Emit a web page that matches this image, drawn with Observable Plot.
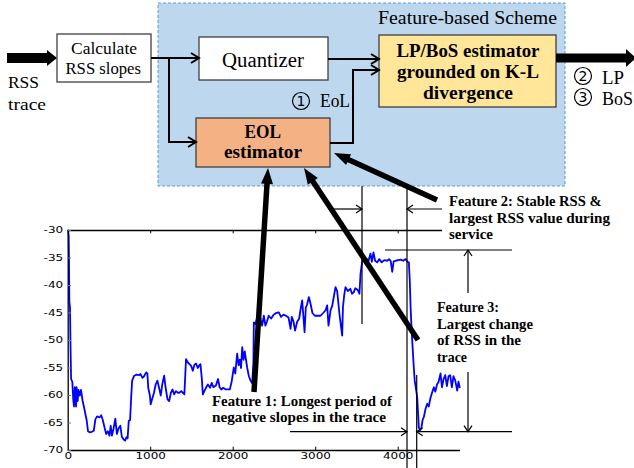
<!DOCTYPE html>
<html><head><meta charset="utf-8">
<script src="https://cdn.jsdelivr.net/npm/d3@7"></script>
<script src="https://cdn.jsdelivr.net/npm/@observablehq/plot@0.6"></script>
<style>html,body{margin:0;padding:0;background:#fff}</style>
</head><body>
<div id="chart"></div>
<script>
// RSS trace (sample index, dBm)
const sampleX = [0,6,10,14,22,28,35,50,61,70,80,95,102,115,125,140,155,175,190,210,224,240,260,286,310,330,350,380,400,420,440,460,480,500,515,530,550,571,590,610,632,650,673,690,706,720,734,750,763,775,800,830,860,877,900,920,945,960,970,990,1000,1020,1040,1060,1081,1100,1122,1140,1163,1180,1204,1224,1245,1265,1285,1305,1330,1346,1370,1390,1408,1420,1428,1450,1470,1490,1510,1530,1550,1570,1590,1603,1620,1632,1650,1670,1693,1720,1740,1760,1790,1816,1835,1856,1880,1910,1940,1958,1980,2007,2025,2048,2065,2080,2095,2109,2125,2140,2155,2170,2190,2210,2230,2245,2250,2270,2290,2310,2330,2350,2371,2390,2410,2430,2460,2490,2520,2553,2580,2610,2640,2670,2695,2710,2730,2750,2775,2800,2820,2836,2850,2865,2880,2895,2917,2940,2960,2990,3020,3058,3090,3120,3139,3155,3180,3200,3220,3240,3260,3290,3321,3330,3345,3361,3390,3420,3440,3462,3480,3510,3530,3543,3564,3580,3600,3620,3640,3664,3680,3700,3720,3745,3770,3800,3830,3867,3890,3910,3927,3945,3970,4000,4030,4060,4089,4110,4129,4140,4150,4165,4189,4200,4230,4250,4265,4280,4295,4311,4330,4351,4370,4390,4410,4432,4450,4470,4490,4513,4530,4550,4570,4590,4610,4630,4650,4670,4690,4715,4730,4745];
const rssValues = [-30,-31,-36,-43,-44,-51,-57,-57.5,-60.7,-62,-58.5,-62,-58.5,-61,-59,-60,-59,-61,-62,-63.5,-64.5,-66.5,-66.7,-66.6,-66.4,-64.3,-63.8,-64,-63.6,-64.5,-65.8,-67,-66.5,-67.3,-65.5,-67.3,-66,-64.2,-67,-66,-65.5,-67.5,-68,-68.2,-67.6,-67.8,-64.6,-64.5,-60.4,-57.3,-56.4,-56.2,-56.3,-56.1,-56.8,-56.5,-55.8,-56,-58.6,-60,-61.6,-60.5,-59.5,-58,-57.3,-58.5,-60,-58,-56.4,-58.5,-60.7,-61,-59.5,-58.9,-59.8,-59.2,-59.5,-59.5,-59.2,-59.5,-59.8,-56,-53.4,-54,-54.3,-54.6,-55.5,-54.4,-54.2,-55,-54.5,-54.3,-57,-59.8,-59.2,-58.6,-58,-58.6,-57.7,-58.5,-58.2,-57,-58.5,-58.9,-58.6,-58.9,-58.9,-58.9,-57.6,-54.9,-56,-52.4,-54.5,-53.5,-55,-51.2,-53.5,-52,-53.5,-55,-56.5,-57.3,-57.8,-54,-46.7,-47,-45.8,-47.5,-46,-47.3,-45.5,-47.3,-46.5,-45.5,-46,-45.3,-45,-44.9,-45.7,-45.3,-45.5,-45.8,-47.9,-45.7,-46.5,-48.2,-46.6,-46,-44,-42.7,-45.5,-48.5,-44,-43.5,-42.1,-43.5,-45,-45.5,-45.5,-45.5,-45,-44.5,-43.6,-47.3,-44.5,-43.7,-42,-40.3,-41,-45.5,-49.1,-44,-41.8,-40.3,-41,-40.6,-41.5,-41.2,-40.5,-40.8,-41.5,-37.9,-35.5,-35,-36,-35.2,-35.5,-34.2,-35.7,-34,-35.5,-35.8,-35.2,-35.8,-35.4,-35.5,-35.2,-35.6,-37.5,-35.6,-35.5,-35.4,-35.3,-35.5,-35.2,-35.7,-35.8,-39,-44,-48.8,-54.9,-57.3,-60.3,-65.8,-66.3,-66,-64.5,-63.9,-62.5,-61.5,-62,-60.5,-59.5,-58.5,-59.3,-58,-57.5,-56,-58.5,-57,-56.3,-58.3,-56.5,-56.3,-58.5,-56.5,-57.2,-59.1,-57.5,-58.5];
const xTicks = [0, 1000, 2000, 3000, 4000];
const yTicks = [-30, -35, -40, -45, -50, -55, -60, -65, -70];

const trace = sampleX.map((x, i) => ({x, y: rssValues[i]}));

const plot = Plot.plot({
  width: 634, height: 468,
  marginLeft: 67.7, marginRight: 174, marginTop: 230, marginBottom: 18,
  x: {domain: [0, 4755], label: null},
  y: {domain: [-70, -30], label: null},
  style: {fontFamily: "DejaVu Sans", fontSize: "8px", background: "white", overflow: "visible", color: "black"},
  marks: [
    Plot.axisX(xTicks, {tickSize: 0, tickPadding: 3, tickFormat: d => String(d), label: null}),
    Plot.axisY(yTicks, {tickSize: 0, tickPadding: 5, tickFormat: d => String(d), label: null}),
    Plot.line(trace, {x: "x", y: "y", stroke: "#0000ff", strokeWidth: 1.8}),
    Plot.ruleX([0], {stroke: "black", strokeWidth: 1.3}),
    Plot.ruleY([-70], {x1: d => 0, x2: d => 4755, stroke: "black", strokeWidth: 1.3}),
    Plot.ruleY([-30], {x1: d => 0, x2: d => 4537, stroke: "black", strokeWidth: 1.3}),
    Plot.ruleX(xTicks.slice(1), {y1: d => -70, y2: d => -69.4, stroke: "black"}),
    Plot.ruleX(xTicks.slice(1), {y1: d => -30, y2: d => -30.6, stroke: "black"}),
    Plot.ruleY(yTicks, {x1: d => 0, x2: d => 40, stroke: "#777"})
  ]
});
document.getElementById("chart").append(plot);

// stretch the tick labels horizontally like the reference
d3.select(plot).selectAll('g[aria-label$="tick label"] text').each(function () {
  const t = this.getAttribute("transform") || "";
  this.setAttribute("transform", t + " scale(1.5,1)");
});

// ---------- block diagram and annotations ----------
const svg = d3.select(plot);
const g = svg.append("g");
const serif = "Liberation Serif";

function text(x, y, s, size, opts = {}) {
  const t = g.append("text").attr("x", x).attr("y", y).text(s)
    .attr("font-family", serif).attr("font-size", size)
    .attr("font-weight", opts.bold ? "bold" : "normal")
    .attr("text-anchor", opts.anchor || "start").attr("fill", "black");
  if (opts.len) t.attr("textLength", opts.len).attr("lengthAdjust", "spacingAndGlyphs");
}
function rect(x, y, w, h, fill, stroke, sw, dash) {
  const r = g.append("rect").attr("x", x).attr("y", y).attr("width", w).attr("height", h)
    .attr("fill", fill).attr("stroke", stroke).attr("stroke-width", sw);
  if (dash) r.attr("stroke-dasharray", dash);
}
function arrowLine(points, w = 2, head = 8, hw = 5) {
  g.append("path").attr("d", d3.line()(points)).attr("fill", "none").attr("stroke", "black").attr("stroke-width", w);
  const [x1, y1] = points[points.length - 2], [x2, y2] = points[points.length - 1];
  const a = Math.atan2(y2 - y1, x2 - x1), c = Math.cos(a), s = Math.sin(a);
  const p1 = [x2 - head * c + hw * s, y2 - head * s - hw * c];
  const p2 = [x2 - head * c - hw * s, y2 - head * s + hw * c];
  g.append("path").attr("d", `M${p1}L${x2},${y2}L${p2}`).attr("fill", "none").attr("stroke", "black").attr("stroke-width", w);
}
function plainLine(points, w = 1.2) {
  g.append("path").attr("d", d3.line()(points)).attr("fill", "none").attr("stroke", "black").attr("stroke-width", w);
}
function thickArrow(x1, y1, x2, y2, w, hl, hw) {
  const a = Math.atan2(y2 - y1, x2 - x1), c = Math.cos(a), s = Math.sin(a);
  const bx = x2 - hl * c, by = y2 - hl * s;
  g.append("line").attr("x1", x1).attr("y1", y1).attr("x2", bx + c).attr("y2", by + s)
    .attr("stroke", "black").attr("stroke-width", w);
  g.append("polygon").attr("points", [[x2, y2], [bx + hw * s, by - hw * c], [bx - hw * s, by + hw * c]].join(" "))
    .attr("fill", "black");
}
function circled(cx, cy, n) {
  g.append("ellipse").attr("cx", cx).attr("cy", cy).attr("rx", 8.5).attr("ry", 8.5).attr("fill", "none").attr("stroke", "black").attr("stroke-width", 1.2);
  g.append("text").attr("x", cx).attr("y", cy + 5).text(n).attr("font-family", "DejaVu Sans").attr("font-size", 14).attr("text-anchor", "middle");
}

// Feature-based scheme area
rect(158, 3, 407, 183, "#bdd7ee", "#5b9bd5", 1, "3,2");
text(378, 24, "Feature-based Scheme", 18.5, {len: 179});

// input
thickArrow(7, 58, 57, 58, 10, 10, 8);
text(8, 88, "RSS", 17, {len: 31});
text(8, 110, "trace", 17, {len: 38});

// Calculate slopes box
rect(57, 34, 94, 48, "white", "#404040", 1.3);
text(71, 54, "Calculate", 16.5, {len: 66});
text(65.5, 74, "RSS slopes", 16.5, {len: 75.5});

// Quantizer
rect(199, 37, 129, 43, "white", "#404040", 1.3);
text(222, 67, "Quantizer", 20, {len: 82});

// EOL estimator
rect(196, 118, 134, 49, "#f4b183", "#404040", 1.3);
text(244.5, 138, "EOL", 18, {bold: true, len: 36.5});
text(224, 158, "estimator", 18, {bold: true, len: 78});

// LP/BoS estimator
rect(379, 35, 177, 72, "#ffe699", "#404040", 1.3);
text(396.5, 57, "LP/BoS estimator", 18.5, {bold: true, len: 143});
text(397, 78, "grounded on K-L", 18.5, {bold: true, len: 142});
text(423, 99, "divergence", 18.5, {bold: true, len: 90});

// connectors
arrowLine([[151, 58], [199, 58]]);
arrowLine([[169, 58], [169, 142], [196, 142]]);
arrowLine([[328, 59], [379, 59]]);
arrowLine([[330, 143], [353, 143], [353, 70], [379, 70]]);

// output
thickArrow(556, 58, 636, 58, 9, 10, 9);
circled(583, 76, "2"); text(602, 84, "LP", 18, {len: 22});
circled(583, 97, "3"); text(602, 105, "BoS", 18, {len: 31});
circled(301, 101, "1"); text(320, 107, "EoL", 18, {len: 30});

// Feature 2 dimension lines
plainLine([[362, 186], [362, 324]]);
plainLine([[407, 186], [407, 468]]);
arrowLine([[333, 209], [362, 209]], 1.2, 6, 4);
arrowLine([[442, 209], [407, 209]], 1.2, 6, 4);
text(449, 206, "Feature 2: Stable RSS &", 15, {bold: true, len: 152.5});
text(449, 223, "largest RSS value during", 15, {bold: true, len: 161});
text(449, 239, "service", 15, {bold: true, len: 44});

// Feature 3 dimension lines
plainLine([[385, 250], [512, 250]]);
plainLine([[416.7, 375], [416.7, 468]]);
arrowLine([[290, 431.7], [407, 431.7]], 1.2, 6, 4);
arrowLine([[512, 431.7], [416.7, 431.7]], 1.2, 6, 4);
arrowLine([[468, 293], [468, 250]], 1.2, 6, 4);
arrowLine([[468, 372], [468, 431.7]], 1.2, 6, 4);
text(437, 312, "Feature 3:", 15, {bold: true, len: 62});
text(437, 328.5, "Largest change", 15, {bold: true, len: 96});
text(437, 345, "of RSS in the", 15, {bold: true, len: 84});
text(437, 361.7, "trace", 15, {bold: true, len: 30});

// Feature 1 label
g.append("rect").attr("x", 208).attr("y", 391).attr("width", 190).attr("height", 36).attr("fill", "white");
text(212, 405.7, "Feature 1: Longest period of", 15, {bold: true, len: 180});
text(212, 422.3, "negative slopes in the trace", 15, {bold: true, len: 174});

// big pointer arrows
thickArrow(254, 392, 268, 168, 5.5, 16, 6);
thickArrow(437, 200, 334, 153, 5.5, 16, 6);
thickArrow(418, 340, 304, 168, 5.5, 16, 6);
</script>
</body></html>
